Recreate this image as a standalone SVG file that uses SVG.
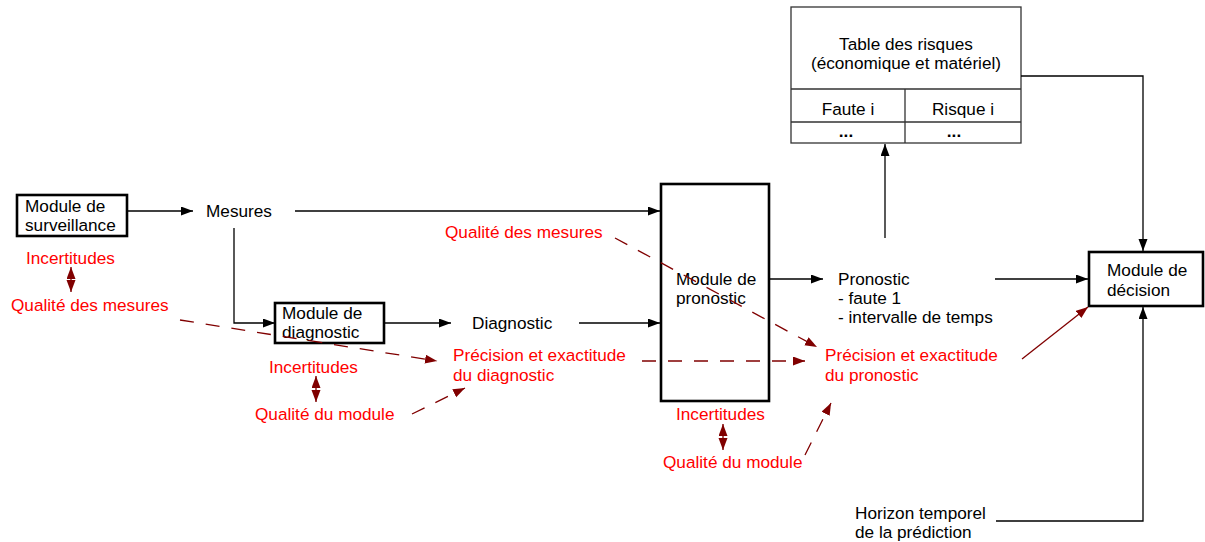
<svg xmlns="http://www.w3.org/2000/svg" width="1205" height="542" viewBox="0 0 1205 542">
<style>
text{font-family:"Liberation Sans",Arial,sans-serif;font-size:17.2px;fill:#000}
.r{fill:#ff0000}
.box{fill:none;stroke:#000;stroke-width:2.6}
.tbl{fill:#fff;stroke:#333;stroke-width:1.3}
.c{fill:none;stroke:#000;stroke-width:1.3}
.d{fill:none;stroke:#800000;stroke-width:1.3;stroke-dasharray:14 12}
.s{fill:none;stroke:#800000;stroke-width:1.3}
.b{font-weight:bold}
</style>
<defs>
<marker id="ak" markerUnits="userSpaceOnUse" markerWidth="13" markerHeight="10" refX="12" refY="4.5" orient="auto"><path d="M0,0 L12,4.5 L0,9 z" fill="#000"/></marker>
<marker id="ar" markerUnits="userSpaceOnUse" markerWidth="13" markerHeight="10" refX="12" refY="4.5" orient="auto-start-reverse"><path d="M0,0 L12,4.5 L0,9 z" fill="#800000"/></marker>
</defs>
<g id="surveillance">
<rect class="box" x="17" y="195" width="110" height="41"/>
<text x="25" y="212">Module de</text>
<text x="25" y="231">surveillance</text>
</g>
<g id="mesures"><text x="206" y="217">Mesures</text></g>
<g id="diagnostic-module">
<rect class="box" x="275" y="303" width="109" height="40"/>
<text x="282" y="319">Module de</text>
<text x="282" y="338">diagnostic</text>
</g>
<g id="diagnostic"><text x="472" y="329">Diagnostic</text></g>
<g id="pronostic-module">
<rect class="box" x="661" y="184" width="108" height="217"/>
<text x="676" y="285">Module de</text>
<text x="676" y="304">pronostic</text>
</g>
<g id="pronostic">
<text x="838" y="285">Pronostic</text>
<text x="838" y="304">- faute 1</text>
<text x="838" y="323">- intervalle de temps</text>
</g>
<g id="decision">
<rect class="box" x="1089" y="252" width="114" height="54"/>
<text x="1107" y="276">Module de</text>
<text x="1107" y="296">décision</text>
</g>
<g id="table">
<rect class="tbl" x="791" y="7" width="230" height="136"/>
<path class="tbl" d="M791,89 H1021 M791,122 H1021 M905,89 V143"/>
<text x="906" y="50" text-anchor="middle">Table des risques</text>
<text x="906" y="69" text-anchor="middle">(économique et matériel)</text>
<text x="848" y="115" text-anchor="middle">Faute i</text>
<text x="963" y="115" text-anchor="middle">Risque i</text>
<text class="b" x="846" y="137" text-anchor="middle">...</text>
<text class="b" x="954" y="137" text-anchor="middle">...</text>
</g>
<g id="horizon">
<text x="855" y="519">Horizon temporel</text>
<text x="855" y="538">de la prédiction</text>
</g>
<g id="red-surveillance">
<text class="r" x="26" y="264">Incertitudes</text>
<text class="r" x="11" y="311">Qualité des mesures</text>
</g>
<g id="red-diagnostic">
<text class="r" x="269" y="373">Incertitudes</text>
<text class="r" x="255" y="420">Qualité du module</text>
<text class="r" x="453" y="361">Précision et exactitude</text>
<text class="r" x="453" y="381">du diagnostic</text>
</g>
<g id="red-qualite-mesures"><text class="r" x="445" y="238">Qualité des mesures</text></g>
<g id="red-pronostic">
<text class="r" x="676" y="420">Incertitudes</text>
<text class="r" x="663" y="468">Qualité du module</text>
<text class="r" x="825" y="361">Précision et exactitude</text>
<text class="r" x="825" y="381">du pronostic</text>
</g>
<g id="connectors">
<path class="c" d="M127,211 H193" marker-end="url(#ak)"/>
<path class="c" d="M295,211 H660" marker-end="url(#ak)"/>
<path class="c" d="M234,228 V323 H275" marker-end="url(#ak)"/>
<path class="c" d="M384,323 H451" marker-end="url(#ak)"/>
<path class="c" d="M579,323 H660" marker-end="url(#ak)"/>
<path class="c" d="M769,279 H823" marker-end="url(#ak)"/>
<path class="c" d="M995,279 H1088" marker-end="url(#ak)"/>
<path class="c" d="M885,238 V144" marker-end="url(#ak)"/>
<path class="c" d="M1021,76 H1143 V251" marker-end="url(#ak)"/>
<path class="c" d="M996,521 H1143 V307" marker-end="url(#ak)"/>
<path class="s" d="M71,267 V292" marker-start="url(#ar)" marker-end="url(#ar)"/>
<path class="s" d="M316,376 V402" marker-start="url(#ar)" marker-end="url(#ar)"/>
<path class="s" d="M723,424 V450" marker-start="url(#ar)" marker-end="url(#ar)"/>
<path class="d" d="M180,320 L437,361" marker-end="url(#ar)"/>
<path class="d" d="M412,414 L465,388" marker-end="url(#ar)"/>
<path class="d" d="M615,238 L817,347" marker-end="url(#ar)"/>
<path class="d" d="M642,361 L805,361" marker-end="url(#ar)"/>
<path class="d" d="M805,455 L831,403" marker-end="url(#ar)"/>
<path class="s" d="M1022,359 L1088,307" marker-end="url(#ar)"/>
</g>
</svg>
